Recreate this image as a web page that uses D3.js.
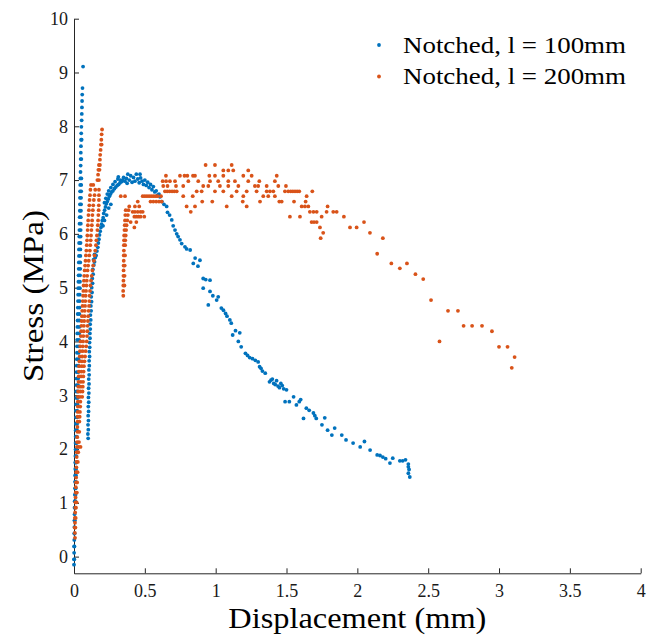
<!DOCTYPE html>
<html><head><meta charset="utf-8">
<script src="https://cdn.jsdelivr.net/npm/d3@7"></script>
<style>
html,body{margin:0;padding:0;background:#fff}
svg{display:block}
svg text{font-family:"Liberation Serif","DejaVu Serif","Times New Roman",serif !important}
</style>
</head><body>
<svg id="chart" width="648" height="642"></svg>
<script>
// ---------- data ----------
const xTicks = [0, 0.5, 1, 1.5, 2, 2.5, 3, 3.5, 4];
const xTickLabels = ["0", "0.5", "1", "1.5", "2", "2.5", "3", "3.5", "4"];
const yTicks = [0, 1, 2, 3, 4, 5, 6, 7, 8, 9, 10];
const yTickLabels = ["0", "1", "2", "3", "4", "5", "6", "7", "8", "9", "10"];
const seriesNames = ["Notched, l = 100mm", "Notched, l = 200mm"];
const seriesColors = ["#0072BD", "#D95319"];
const xLabel = "Displacement (mm)";
const yLabel = "Stress (MPa)";

// l = 100mm : first loading spike, rows of [stress, displacement...]
const blueSpikeRows = [
[-0.15,0.0],[-0.05,0.0,0.002],[0.07,0.001],[0.19,0.001,0.003],[0.31,0.002],[0.43,0.002,0.004],[0.55,0.003],[0.67,0.003,0.006],
[0.79,0.004],[0.91,0.004,0.008],[1.03,0.005,0.01],[1.15,0.006,0.011],[1.27,0.007,0.012],[1.39,0.007,0.013],[1.51,0.008,0.014],
[1.63,0.009,0.015],[1.75,0.009,0.016],[1.87,0.01,0.017],[1.99,0.011,0.018],[2.11,0.011,0.019],[2.23,0.012,0.02],[2.35,0.012,0.021],
[2.47,0.013,0.022],[2.59,0.014,0.023],[2.71,0.014,0.024],[2.83,0.015,0.025],[2.95,0.016,0.026],[3.07,0.016,0.027],[3.19,0.017,0.028],
[3.31,0.018,0.029],[3.43,0.018,0.03],[3.55,0.019,0.031],[3.67,0.02,0.032],[3.79,0.021,0.033],[3.91,0.021,0.034],[4.03,0.022,0.035],
[4.15,0.023,0.036],[4.27,0.024,0.037],[4.39,0.025,0.037],[4.51,0.026,0.038],[4.63,0.027,0.039],[4.75,0.028,0.04],[4.87,0.029,0.041],
[4.99,0.03,0.042],[5.11,0.031,0.042],[5.23,0.032,0.043],[5.35,0.033,0.044],[5.47,0.034,0.044],[5.59,0.035,0.045],[5.71,0.035,0.045],
[5.83,0.036,0.046],[5.95,0.037,0.047],[6.07,0.038,0.047],[6.19,0.039,0.048],[6.31,0.04,0.048],[6.43,0.041,0.049],[6.55,0.042,0.05],
[6.67,0.042,0.05],[6.79,0.043,0.051],[6.91,0.044,0.051],[7.03,0.045,0.052],[7.15,0.046],[7.27,0.047],[7.39,0.047,0.052],[7.51,0.048],
[7.63,0.049],[7.75,0.05,0.054],[7.87,0.051],[7.99,0.052],[8.11,0.054],[8.23,0.055],[8.35,0.056],[8.47,0.057],[8.59,0.058],[8.71,0.06],[9.11,0.064]
];

// l = 100mm : reloading, peak and softening, [displacement, stress]
const blueCurve = [
[0.100,2.20],[0.098,2.28],[0.101,2.36],[0.099,2.45],[0.102,2.53],[0.100,2.62],[0.103,2.70],[0.101,2.79],[0.104,2.87],[0.102,2.96],
[0.105,3.04],[0.103,3.13],[0.106,3.21],[0.104,3.30],[0.107,3.38],[0.105,3.47],[0.108,3.55],[0.107,3.64],[0.110,3.72],[0.108,3.81],
[0.111,3.89],[0.110,3.98],[0.113,4.06],[0.112,4.15],[0.115,4.23],[0.114,4.32],[0.118,4.40],[0.116,4.49],[0.121,4.57],[0.119,4.66],
[0.124,4.74],[0.122,4.83],[0.127,4.91],[0.125,5.00],[0.131,5.08],[0.129,5.17],[0.135,5.25],[0.133,5.34],[0.140,5.42],[0.145,5.48],
[0.138,5.52],[0.150,5.56],[0.156,5.60],[0.145,5.62],[0.162,5.68],[0.168,5.75],[0.172,5.83],[0.176,5.90],[0.180,5.98],[0.185,6.05],
[0.190,6.12],[0.195,6.18],[0.200,6.25],[0.205,6.15],[0.206,6.30],[0.210,6.38],[0.215,6.25],[0.216,6.44],[0.222,6.50],[0.228,6.56],
[0.230,6.35],[0.235,6.60],[0.242,6.65],[0.245,6.48],[0.250,6.70],[0.258,6.74],[0.260,6.55],[0.266,6.78],[0.275,6.80],[0.285,6.84],
[0.295,6.87],[0.305,6.90],[0.315,6.92],[0.325,6.95],[0.335,6.97],[0.345,6.99],[0.215,6.58],[0.225,6.66],[0.235,6.74],[0.245,6.80],
[0.260,6.86],[0.275,6.92],[0.290,6.97],[0.310,7.02],[0.313,7.06],[0.330,7.00],[0.350,7.05],[0.360,6.98],[0.370,7.03],[0.375,6.94],
[0.380,7.11],[0.390,7.00],[0.400,7.08],[0.410,6.96],[0.420,7.05],[0.430,6.98],[0.440,7.11],[0.450,7.02],[0.460,6.95],[0.466,7.11],
[0.470,7.04],[0.480,6.98],[0.490,6.92],[0.500,7.00],[0.510,6.90],[0.520,6.96],[0.530,6.86],[0.540,6.92],[0.550,6.82],[0.560,6.88],
[0.570,6.78],[0.580,6.80],[0.590,6.72],[0.600,6.74],[0.607,6.69],[0.620,6.60],[0.635,6.55],[0.654,6.51],[0.660,6.40],[0.675,6.35],
[0.690,6.26],[0.700,6.15],[0.713,6.07],[0.725,6.00],[0.735,5.95],[0.748,5.89],[0.760,5.82],[0.783,5.76],[0.795,5.72],[0.820,5.70],
[0.842,5.45],[0.855,5.55],[0.875,5.40],[0.889,5.51],[0.912,5.17],[0.930,5.15],[0.960,5.14],[0.912,4.99],[0.960,4.93],[0.948,4.68],
[0.980,4.85],[1.007,4.77],[1.018,4.83],[1.040,4.62],[1.055,4.58],[1.070,4.52],[1.080,4.47],[1.100,4.40],[1.110,4.34],[1.120,4.12],
[1.140,4.20],[1.170,4.16],[1.160,4.00],[1.180,3.90],[1.210,3.78],[1.225,3.74],[1.240,3.70],[1.260,3.68],[1.280,3.65],[1.300,3.62],
[1.310,3.53],[1.320,3.50],[1.330,3.45],[1.350,3.41],[1.380,3.25],[1.390,3.28],[1.400,3.30],[1.410,3.22],[1.420,3.20],[1.430,3.27],
[1.440,3.17],[1.450,3.14],[1.460,3.22],[1.470,3.18],[1.480,3.12],[1.500,3.10],[1.490,2.88],[1.520,2.88],[1.550,2.97],[1.570,2.82],
[1.590,2.88],[1.600,2.92],[1.620,2.57],[1.640,2.76],[1.660,2.72],[1.690,2.67],[1.700,2.62],[1.710,2.57],[1.750,2.45],[1.770,2.58],
[1.790,2.35],[1.820,2.26],[1.840,2.39],[1.890,2.26],[1.920,2.17],[1.970,2.11],[2.020,2.04],[2.050,2.14],[2.090,1.98],[2.140,1.89],
[2.160,1.88],[2.180,1.85],[2.200,1.82],[2.230,1.74],[2.250,1.83],[2.300,1.78],[2.320,1.78],[2.340,1.80],[2.360,1.72],[2.360,1.67],
[2.365,1.62],[2.360,1.55],[2.370,1.48]
];

// l = 200mm : first loading band and spike, rows of [stress, displacement...]
const orangeRiseRows = [
[0.35,0.007],[0.44,0.006],[0.54,0.005,0.01],[0.63,0.007],[0.72,0.006,0.012],[0.82,0.008],[0.91,0.009,0.014],[1.01,0.01,0.018],
[1.10,0.011],[1.19,0.012,0.02],[1.29,0.013],[1.38,0.014,0.022],[1.47,0.015],[1.57,0.016,0.025],[1.66,0.017],[1.76,0.018,0.027],
[1.85,0.019],[1.94,0.02,0.03],[2.04,0.021,0.032,0.046],[2.13,0.022,0.035],[2.22,0.023],[2.32,0.024,0.037],[2.41,0.024],
[2.51,0.025,0.038],[2.60,0.025,0.04],[2.69,0.026,0.042],[2.79,0.027,0.044],[2.88,0.027,0.045],[2.97,0.028,0.042,0.058],
[3.07,0.029,0.044,0.06],[3.16,0.03,0.046,0.062],[3.25,0.032,0.048,0.064],[3.35,0.033,0.05,0.066],[3.44,0.035,0.052,0.068],
[3.54,0.036,0.054,0.07],[3.63,0.038,0.056,0.074],[3.72,0.04,0.058,0.078],[3.82,0.042,0.06,0.082],[3.91,0.044,0.062,0.086],
[4.00,0.046,0.064,0.09],[4.10,0.048,0.066,0.092],[4.19,0.05,0.068,0.094],[4.29,0.052,0.07,0.096],[4.38,0.054,0.072,0.098],
[4.47,0.056,0.074,0.1],[4.57,0.058,0.076,0.103],[4.66,0.06,0.078,0.106],[4.75,0.062,0.08,0.108],[4.85,0.064,0.082,0.11],
[4.94,0.066,0.085,0.113],[5.04,0.068,0.088,0.116],[5.13,0.07,0.09,0.12],[5.22,0.072,0.093,0.125],[5.32,0.075,0.096,0.13],
[5.41,0.078,0.1,0.135],[5.50,0.081,0.104,0.14],[5.60,0.084,0.108,0.145],[5.69,0.087,0.112,0.15],[5.79,0.09,0.115,0.155],
[5.88,0.092,0.118,0.158],[5.97,0.094,0.12,0.162],[6.07,0.096,0.123,0.165],[6.16,0.098,0.126,0.168],[6.25,0.1,0.128,0.17],
[6.35,0.102,0.13,0.172],[6.44,0.105,0.133,0.174],[6.53,0.108,0.136,0.175],[6.63,0.11,0.14,0.176],[6.72,0.113,0.145,0.176],
[6.82,0.116,0.15,0.176],[6.91,0.12,0.136],[7.00,0.165,0.176],[7.10,0.17],[7.19,0.172,0.18],[7.28,0.176,0.183],[7.38,0.183],
[7.47,0.185],[7.56,0.188],[7.66,0.19,0.195],[7.75,0.193],[7.85,0.195],[7.94,0.198],
// second loading branch after the drop
[4.85,0.348],[4.94,0.347],[5.04,0.348,0.356],[5.13,0.349],[5.22,0.349,0.357],[5.32,0.35],[5.41,0.35,0.358],[5.50,0.351],
[5.60,0.351,0.36],[5.69,0.352],[5.79,0.352,0.361],[5.88,0.353,0.362],[5.97,0.354,0.365],[6.07,0.356,0.368],[6.16,0.358,0.371],
[6.25,0.36,0.376],[6.35,0.362,0.38],[6.44,0.365,0.385]
];

// l = 200mm : plateau, rows of [stress, displacement...]
const orangePlateauRows = [
[7.28,0.929,0.995,1.113],
[7.18,1.054,1.089,1.124,1.23],
[7.08,0.649,0.748,0.78,0.80,0.84,0.854,0.955,0.995,1.054,1.195,1.254,1.431],
[6.98,0.626,0.65,0.677,0.713,0.807,0.877,0.96,1.018,1.089,1.136,1.23,1.308,1.418],
[6.89,0.63,0.66,0.72,0.771,0.912,0.948,1.03,1.089,1.16,1.277,1.3,1.36,1.442,1.496],
[6.79,0.642,0.658,0.675,0.692,0.708,0.725,0.866,0.901,0.995,1.054,1.148,1.219,1.289,1.36,1.383,1.407,1.489,1.512,1.53,1.545,1.56,1.575,1.59,1.682],
[6.70,0.33,0.36,0.485,0.50,0.515,0.53,0.545,0.56,0.575,0.59,0.614,0.771,0.838,1.113,1.195,1.336,1.371,1.418,1.642],
[6.60,0.45,0.54,0.56,0.58,0.60,0.619,0.905,0.976,1.191,1.313,1.449,1.466,1.553,1.635],
[6.51,0.39,0.43,0.46,0.795,0.854,1.078,1.219,1.607,1.63,1.654,1.79],
[6.41,0.414,0.43,0.45,0.47,0.485,0.824,1.665,1.69,1.713,1.783,1.83,1.854],
[6.32,0.426,0.44,0.455,0.47,0.496,1.524,1.595,1.748,1.905],
[6.22,0.40,0.44,1.677,1.694,1.713,2.047],
[6.12,0.426,1.736,1.948,1.995],
[6.02,1.759,2.089],
[5.92,1.741,2.18]
];

// l = 200mm : softening tail, [displacement, stress]
const orangeTail = [
[2.14,5.63],[2.24,5.45],[2.30,5.36],[2.35,5.45],[2.41,5.25],[2.465,5.16],[2.52,4.77],[2.58,4.00],[2.64,4.57],
[2.71,4.57],[2.75,4.29],[2.81,4.29],[2.88,4.29],[2.95,4.19],[3.00,3.90],[3.06,3.90],[3.11,3.71],[3.09,3.51]
];

// ---------- build point lists ----------
function rowsToPoints(rows) {
  const pts = [];
  rows.forEach(r => { for (let i = 1; i < r.length; i++) pts.push([r[i], r[0]]); });
  return pts;
}
const bluePoints = rowsToPoints(blueSpikeRows).concat(blueCurve);
const orangePoints = rowsToPoints(orangeRiseRows).concat(rowsToPoints(orangePlateauRows), orangeTail);
const series = [bluePoints, orangePoints];

// ---------- chart ----------
const FONT = "Liberation Serif, DejaVu Serif, serif";
const svg = d3.select("#chart");
const axisColor = "#262626";
const x = d3.scaleLinear().domain([0, 4]).range([74, 640.7]);
const y = d3.scaleLinear().domain([-0.31, 10]).range([573.3, 18.7]);

const xAxis = svg.append("g").attr("transform", `translate(0,${y(-0.31)})`)
  .call(d3.axisBottom(x).tickValues(xTicks).tickFormat((d, i) => xTickLabels[i])
    .tickSizeInner(-5).tickSizeOuter(0).tickPadding(11));
const yAxis = svg.append("g").attr("transform", `translate(${x(0)},0)`)
  .call(d3.axisLeft(y).tickValues(yTicks).tickFormat((d, i) => yTickLabels[i])
    .tickSizeInner(-5).tickSizeOuter(0).tickPadding(6));

[xAxis, yAxis].forEach(g => {
  g.attr("font-family", FONT).attr("font-size", 18);
  g.select(".domain").attr("stroke", axisColor).attr("stroke-width", 1);
  g.selectAll(".tick line").attr("stroke", axisColor);
  g.selectAll(".tick text").attr("fill", "#1a1a1a").attr("font-family", FONT);
});

// scatter marks
series.forEach((pts, si) => {
  svg.append("g").selectAll("circle").data(pts).join("circle")
    .attr("cx", d => x(d[0])).attr("cy", d => y(d[1]))
    .attr("r", 1.9).attr("fill", seriesColors[si]);
});

// axis labels
svg.append("text").text(xLabel)
  .attr("x", (x(0) + x(4)) / 2).attr("y", 628).attr("text-anchor", "middle")
  .attr("textLength", 258).attr("lengthAdjust", "spacingAndGlyphs")
  .attr("font-family", FONT).attr("font-size", 30).attr("fill", "#000");
svg.append("text").text(yLabel)
  .attr("transform", `translate(43,${(y(-0.31) + y(10)) / 2}) rotate(-90)`)
  .attr("text-anchor", "middle")
  .attr("textLength", 172).attr("lengthAdjust", "spacingAndGlyphs")
  .attr("font-family", FONT).attr("font-size", 30).attr("fill", "#000");

// legend
const legend = svg.append("g");
seriesNames.forEach((name, i) => {
  const ly = 45 + i * 31.5;
  legend.append("circle").attr("cx", 379).attr("cy", ly).attr("r", 1.9).attr("fill", seriesColors[i]);
  legend.append("text").text(name).attr("x", 403).attr("y", ly + 7.5)
    .attr("textLength", 223).attr("lengthAdjust", "spacingAndGlyphs")
    .attr("font-family", FONT).attr("font-size", 23).attr("fill", "#000");
});
</script>
</body></html>
